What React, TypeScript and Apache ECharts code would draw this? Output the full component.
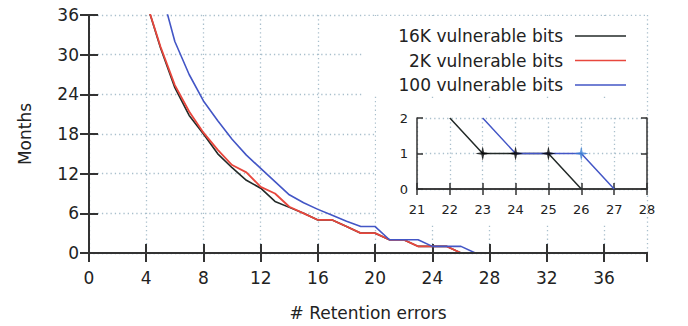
import React, { useEffect, useRef } from "react";
import * as echarts from "echarts";

const seriesNames = ["16K vulnerable bits", "2K vulnerable bits", "100 vulnerable bits"];

const errors16K = [4, 5, 6, 7, 8, 9, 10, 11, 12, 13, 14, 15, 16, 17, 18, 19, 20, 21, 22, 23, 24, 25, 26];
const months16K = [38, 31, 25, 20.8, 18, 15, 12.9, 11, 9.8, 7.8, 6.9, 6, 5, 5, 4, 3, 3, 2, 2, 1, 1, 1, 0];

const errors2K = [4, 5, 6, 7, 8, 9, 10, 11, 12, 13, 14, 15, 16, 17, 18, 19, 20, 21, 22, 23, 24, 25, 26];
const months2K = [38, 31.2, 25.4, 21.4, 18.2, 15.6, 13.3, 12.2, 10, 9, 7, 6, 5, 5, 4, 3, 3, 2, 2, 1, 1, 1, 0];

const errors100 = [5, 6, 7, 8, 9, 10, 11, 12, 13, 14, 15, 16, 17, 18, 19, 20, 21, 22, 23, 24, 25, 26, 27];
const months100 = [40, 32, 27, 23, 20, 17.2, 14.8, 12.8, 10.8, 8.8, 7.6, 6.6, 5.7, 4.8, 4, 4, 2, 2, 2, 1, 1, 1, 0];

// inset (zoomed view)
const insetErrors16K = [22, 23, 24, 25, 26];
const insetMonths16K = [2, 1, 1, 1, 0];
const insetErrors100 = [23, 24, 25, 26, 27];
const insetMonths100 = [2, 1, 1, 1, 0];

const markErrors16K = [23, 24, 25];
const markMonths16K = [1, 1, 1];
const markErrors100 = [26];
const markMonths100 = [1];

const xAxisTitle = "# Retention errors";
const yAxisTitle = "Months";

const colors = ["#232a28", "#e8473d", "#4356c6"];
const starColor100 = "#3b7fd6";

const pairs = (xs: number[], ys: number[]) => xs.map((x, i) => [x, ys[i]]);

const FONT = "DejaVu Sans";
const AXIS_COLOR = "#333";
const GRID_LINE = { show: true, lineStyle: { color: "#a9bfcc", width: 1.3, type: [1.3, 3] as any } };
const STAR = "path://M0,-10 L1.8,-1.8 L10,0 L1.8,1.8 L0,10 L-1.8,1.8 L-10,0 L-1.8,-1.8 Z";

export default function App() {
  const ref = useRef<HTMLDivElement>(null);

  useEffect(() => {
    const chart = echarts.init(ref.current!, null, { renderer: "svg" });

    const mainLabel = { fontFamily: FONT, fontSize: 17, color: "#222" };
    const insetLabel = { fontFamily: FONT, fontSize: 13, color: "#222" };
    const mainLine = { show: true, lineStyle: { color: AXIS_COLOR, width: 2 } };
    const insetLine = { show: true, lineStyle: { color: AXIS_COLOR, width: 1.5 } };
    const mainTick = { show: true, inside: true, length: 9, lineStyle: { color: AXIS_COLOR, width: 2 } };
    const insetTick = { show: true, inside: true, length: 6, lineStyle: { color: AXIS_COLOR, width: 1.5 } };

    const legendRows = seriesNames.map((name, i) => {
      const y = 36 + i * 24.5;
      return [
        {
          type: "text",
          z: 20,
          x: 563,
          y,
          style: { text: name, fontFamily: FONT, fontSize: 17, fill: "#222", textAlign: "right", textVerticalAlign: "middle" },
        },
        {
          type: "line",
          z: 20,
          shape: { x1: 575, y1: y, x2: 626, y2: y },
          style: { stroke: colors[i], lineWidth: 1.6 },
        },
      ];
    }).flat();

    chart.setOption({
      animation: false,
      backgroundColor: "#fff",
      grid: [
        { left: 89, top: 15, width: 558, height: 238 },
        { left: 417, top: 118, width: 230, height: 71 },
      ],
      xAxis: [
        {
          gridIndex: 0, type: "value", position: "bottom", min: 0, max: 39, interval: 4,
          axisLine: mainLine, axisTick: mainTick, splitLine: GRID_LINE,
          axisLabel: { ...mainLabel, margin: 16, showMaxLabel: false },
        },
        {
          gridIndex: 0, type: "value", position: "top", min: 0, max: 39, interval: 4, z: 5,
          axisLine: mainLine, axisTick: mainTick, splitLine: { show: false }, axisLabel: { show: false },
        },
        {
          gridIndex: 1, type: "value", position: "bottom", min: 21, max: 28, interval: 1, z: 5,
          axisLine: insetLine, axisTick: insetTick, splitLine: GRID_LINE,
          axisLabel: { ...insetLabel, margin: 14 },
        },
        {
          gridIndex: 1, type: "value", position: "top", min: 21, max: 28, interval: 1, z: 5,
          axisLine: insetLine, axisTick: insetTick, splitLine: { show: false }, axisLabel: { show: false },
        },
      ],
      yAxis: [
        {
          gridIndex: 0, type: "value", position: "left", min: 0, max: 36, interval: 6,
          axisLine: mainLine, axisTick: mainTick, splitLine: GRID_LINE,
          axisLabel: { ...mainLabel, margin: 10 },
        },
        {
          gridIndex: 0, type: "value", position: "right", min: 0, max: 36, interval: 6, z: 5,
          axisLine: mainLine, axisTick: mainTick, splitLine: { show: false }, axisLabel: { show: false },
        },
        {
          gridIndex: 1, type: "value", position: "left", min: 0, max: 2, interval: 1, z: 5,
          axisLine: insetLine, axisTick: insetTick, splitLine: GRID_LINE,
          axisLabel: { ...insetLabel, margin: 9 },
        },
        {
          gridIndex: 1, type: "value", position: "right", min: 0, max: 2, interval: 1, z: 5,
          axisLine: insetLine, axisTick: insetTick, splitLine: { show: false }, axisLabel: { show: false },
        },
      ],
      series: [
        {
          name: seriesNames[0], type: "line", xAxisIndex: 0, yAxisIndex: 0, clip: true, symbol: "none",
          data: pairs(errors16K, months16K), lineStyle: { color: colors[0], width: 1.6 }, z: 2,
        },
        {
          name: seriesNames[1], type: "line", xAxisIndex: 0, yAxisIndex: 0, clip: true, symbol: "none",
          data: pairs(errors2K, months2K), lineStyle: { color: colors[1], width: 1.8 }, z: 3,
        },
        {
          name: seriesNames[2], type: "line", xAxisIndex: 0, yAxisIndex: 0, clip: true, symbol: "none",
          data: pairs(errors100, months100), lineStyle: { color: colors[2], width: 1.6 }, z: 3,
        },
        {
          name: seriesNames[0] + " (inset)", type: "line", xAxisIndex: 2, yAxisIndex: 2, clip: true, symbol: "none",
          data: pairs(insetErrors16K, insetMonths16K), lineStyle: { color: colors[0], width: 1.5 }, z: 6,
        },
        {
          name: seriesNames[2] + " (inset)", type: "line", xAxisIndex: 2, yAxisIndex: 2, clip: true, symbol: "none",
          data: pairs(insetErrors100, insetMonths100), lineStyle: { color: colors[2], width: 1.5 }, z: 7,
        },
        {
          type: "scatter", xAxisIndex: 2, yAxisIndex: 2, symbol: STAR, symbolSize: 15,
          data: pairs(markErrors16K, markMonths16K), itemStyle: { color: "#000" }, z: 8,
        },
        {
          type: "scatter", xAxisIndex: 2, yAxisIndex: 2, symbol: STAR, symbolSize: 15,
          data: pairs(markErrors100, markMonths100), itemStyle: { color: starColor100 }, z: 8,
        },
      ],
      graphic: [
        { type: "rect", z: 1, shape: { x: 362, y: 16, width: 284, height: 80 }, style: { fill: "#fff" } },
        { type: "rect", z: 1, shape: { x: 376, y: 100, width: 270, height: 124 }, style: { fill: "#fff" } },
        ...legendRows,
        {
          type: "text", z: 20, x: 25, y: 134, rotation: Math.PI / 2,
          style: { text: yAxisTitle, fontFamily: FONT, fontSize: 17, fill: "#222", textAlign: "center", textVerticalAlign: "middle" },
        },
        {
          type: "text", z: 20, x: 368, y: 313,
          style: { text: xAxisTitle, fontFamily: FONT, fontSize: 17, fill: "#222", textAlign: "center", textVerticalAlign: "middle" },
        },
      ],
    });

    return () => chart.dispose();
  }, []);

  return (
    <div
      ref={ref}
      style={{ position: "fixed", left: 0, top: 0, width: 688, height: 326, background: "#fff" }}
    />
  );
}
